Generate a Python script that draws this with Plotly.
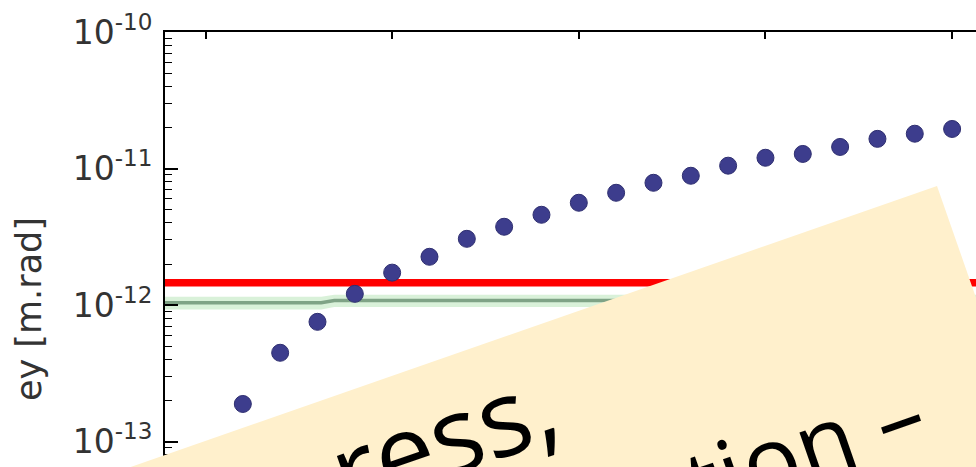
import plotly.graph_objects as go

# ---------------- data ----------------
x_points = [1, 2, 3, 4, 5, 6, 7, 8, 9, 10, 11, 12, 13, 14, 15, 16, 17, 18, 19, 20]
ey_points = [1.89e-13, 4.48e-13, 7.55e-13, 1.21e-12, 1.73e-12, 2.26e-12, 3.06e-12,
             3.75e-12, 4.59e-12, 5.62e-12, 6.65e-12, 7.87e-12, 8.86e-12, 1.05e-11,
             1.20e-11, 1.28e-11, 1.44e-11, 1.65e-11, 1.80e-11, 1.95e-11]

limit_ey = 1.46e-12

green_x = [-1.2, 3.1, 3.45, 21.0]
green_y = [1.04e-12, 1.04e-12, 1.08e-12, 1.08e-12]
green_hi = [1.15e-12, 1.15e-12, 1.19e-12, 1.19e-12]
green_lo = [0.93e-12, 0.93e-12, 0.97e-12, 0.97e-12]

x_range = [-1.085, 20.64]
y_range_log = [-13.185, -10.0]

x_tickvals = [0, 5, 10, 15, 20]
y_tickvals = [1e-13, 1e-12, 1e-11, 1e-10]
y_ticktext = ["10<sup>-13</sup>", "10<sup>-12</sup>", "10<sup>-11</sup>", "10<sup>-10</sup>"]
y_minor_vals = [m * d for d in (1e-14, 1e-13, 1e-12, 1e-11) for m in (2, 3, 4, 5, 6, 7, 8, 9)]

y_title = "ey [m.rad]"
note_line1 = "ress,"
note_line2 = "tion \u2013"

# ---------------- figure ----------------
W, H = 976, 467
ML, MT = 165, 32


def px_to_paper(px, py):
    return (px - ML) / (W - ML), (H - py) / (H - MT)


fig = go.Figure()

# green band + line
fig.add_trace(go.Scatter(x=green_x, y=green_hi, mode="lines", line=dict(width=0),
                         showlegend=False, hoverinfo="skip"))
fig.add_trace(go.Scatter(x=green_x, y=green_lo, mode="lines", line=dict(width=0),
                         fill="tonexty", fillcolor="rgba(170,225,170,0.45)",
                         showlegend=False, hoverinfo="skip"))
fig.add_trace(go.Scatter(x=green_x, y=green_y, mode="lines",
                         line=dict(color="#7fa386", width=3.5), showlegend=False))

# red limit line
fig.add_trace(go.Scatter(x=[x_range[0] - 1, x_range[1] + 1], y=[limit_ey, limit_ey], mode="lines",
                         line=dict(color="#ff0000", width=7.5), showlegend=False))

# data points
fig.add_trace(go.Scatter(x=x_points, y=ey_points, mode="markers",
                         marker=dict(size=17, color="#3d3d8d",
                                     line=dict(color="#2e2e70", width=1)),
                         showlegend=False, cliponaxis=False))

# sticky note overlay (decoration)
tr = px_to_paper(937, 186)
br = px_to_paper(1069, 564)
bl = px_to_paper(-7, 564)
tl = px_to_paper(-7, 515)
path = "M {} {} L {} {} L {} {} L {} {} Z".format(tr[0], tr[1], br[0], br[1], bl[0], bl[1], tl[0], tl[1])
fig.add_shape(type="path", path=path, xref="paper", yref="paper",
              fillcolor="#fff0cc", line=dict(width=0), layer="above")

a1 = px_to_paper(442, 436)
a2 = px_to_paper(803, 446)
for (ax_, ay_), txt, fs in ((a1, note_line1, 106), (a2, note_line2, 95)):
    fig.add_annotation(x=ax_, y=ay_, xref="paper", yref="paper", text=txt,
                       showarrow=False, textangle=-19.2, xanchor="center", yanchor="middle",
                       font=dict(family="Open Sans", size=fs, color="#000000"))

# y title
tx, ty = px_to_paper(29, 309)
fig.add_annotation(x=tx, y=ty, xref="paper", yref="paper", text=y_title, showarrow=False,
                   textangle=-90, xanchor="center", yanchor="middle",
                   font=dict(family="DejaVu Sans", size=35, color="#333333"))

fig.update_layout(
    width=W, height=H,
    margin=dict(l=ML, r=0, t=MT, b=0, pad=0),
    paper_bgcolor="white", plot_bgcolor="white",
    xaxis=dict(range=x_range, side="top", showline=True, linecolor="black", linewidth=2,
               ticks="inside", ticklen=7, tickwidth=1.5, tickcolor="black",
               tickvals=x_tickvals, showticklabels=False, showgrid=False, zeroline=False),
    yaxis=dict(type="log", range=y_range_log, showline=True, linecolor="black", linewidth=2,
               ticks="inside", ticklen=13, tickwidth=1.5, tickcolor="black",
               tickvals=y_tickvals, ticktext=y_ticktext, ticklabelstandoff=4,
               tickfont=dict(family="DejaVu Sans", size=33, color="#333333"),
               minor=dict(ticks="inside", ticklen=7, tickwidth=1.2, tickcolor="black",
                          tickvals=y_minor_vals, showgrid=False),
               showgrid=False, zeroline=False),
)

fig.write_html("out.html")
